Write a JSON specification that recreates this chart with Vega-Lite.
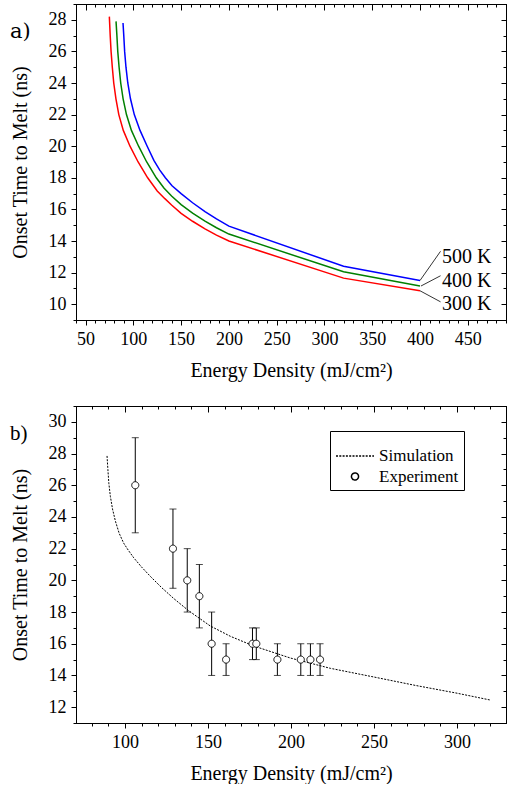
{
  "$schema": "https://vega.github.io/schema/vega-lite/v6.json",
  "padding": {"left": 9, "top": 3, "right": 0, "bottom": 0},
  "spacing": 86,
  "bounds": "flush",
  "datasets": {
    "curves": [
      {"E": 74.9, "t": 28.2, "T": "300 K"}, {"E": 75.8, "t": 27, "T": "300 K"}, {"E": 76.7, "t": 26, "T": "300 K"}, {"E": 78, "t": 25, "T": "300 K"}, {"E": 79.5, "t": 24, "T": "300 K"}, {"E": 81.8, "t": 23, "T": "300 K"}, {"E": 84.8, "t": 22, "T": "300 K"}, {"E": 89.5, "t": 21, "T": "300 K"}, {"E": 96.5, "t": 20, "T": "300 K"}, {"E": 105, "t": 19, "T": "300 K"}, {"E": 115, "t": 18, "T": "300 K"}, {"E": 125, "t": 17.17, "T": "300 K"}, {"E": 133, "t": 16.68, "T": "300 K"}, {"E": 140, "t": 16.28, "T": "300 K"}, {"E": 150, "t": 15.75, "T": "300 K"}, {"E": 162, "t": 15.25, "T": "300 K"}, {"E": 175, "t": 14.77, "T": "300 K"}, {"E": 187, "t": 14.37, "T": "300 K"}, {"E": 200, "t": 14.0, "T": "300 K"}, {"E": 320, "t": 11.65, "T": "300 K"}, {"E": 400, "t": 10.85, "T": "300 K"},
      {"E": 81.9, "t": 27.9, "T": "400 K"}, {"E": 82.8, "t": 27, "T": "400 K"}, {"E": 83.7, "t": 26, "T": "400 K"}, {"E": 85.1, "t": 25, "T": "400 K"}, {"E": 86.8, "t": 24, "T": "400 K"}, {"E": 89.3, "t": 23, "T": "400 K"}, {"E": 92.8, "t": 22, "T": "400 K"}, {"E": 98, "t": 21, "T": "400 K"}, {"E": 105.5, "t": 20, "T": "400 K"}, {"E": 114, "t": 19, "T": "400 K"}, {"E": 124, "t": 18, "T": "400 K"}, {"E": 132, "t": 17.35, "T": "400 K"}, {"E": 140, "t": 16.85, "T": "400 K"}, {"E": 150, "t": 16.3, "T": "400 K"}, {"E": 162, "t": 15.77, "T": "400 K"}, {"E": 175, "t": 15.26, "T": "400 K"}, {"E": 187, "t": 14.84, "T": "400 K"}, {"E": 200, "t": 14.44, "T": "400 K"}, {"E": 320, "t": 12.05, "T": "400 K"}, {"E": 400, "t": 11.15, "T": "400 K"},
      {"E": 89.2, "t": 27.8, "T": "500 K"}, {"E": 90, "t": 27, "T": "500 K"}, {"E": 90.9, "t": 26, "T": "500 K"}, {"E": 92.3, "t": 25, "T": "500 K"}, {"E": 94.2, "t": 24, "T": "500 K"}, {"E": 97, "t": 23, "T": "500 K"}, {"E": 101, "t": 22, "T": "500 K"}, {"E": 107, "t": 21, "T": "500 K"}, {"E": 114.5, "t": 20, "T": "500 K"}, {"E": 121.5, "t": 19.1, "T": "500 K"}, {"E": 127.5, "t": 18.5, "T": "500 K"}, {"E": 133.5, "t": 18.0, "T": "500 K"}, {"E": 140.5, "t": 17.5, "T": "500 K"}, {"E": 150, "t": 17.0, "T": "500 K"}, {"E": 162, "t": 16.42, "T": "500 K"}, {"E": 175, "t": 15.86, "T": "500 K"}, {"E": 187, "t": 15.4, "T": "500 K"}, {"E": 200, "t": 14.94, "T": "500 K"}, {"E": 320, "t": 12.4, "T": "500 K"}, {"E": 400, "t": 11.5, "T": "500 K"}
    ],
    "curveLabels": [
      {"E": 423, "t": 13.0, "T": "500 K"},
      {"E": 423, "t": 11.5, "T": "400 K"},
      {"E": 423, "t": 10.0, "T": "300 K"}
    ],
    "leaders": [
      {"E": 400, "t": 11.5, "E2": 421.5, "t2": 13.35},
      {"E": 401, "t": 11.15, "E2": 421.5, "t2": 11.8},
      {"E": 400, "t": 10.85, "E2": 421.5, "t2": 10.15}
    ],
    "sim": [
      {"E": 89.2, "t": 27.85}, {"E": 89.7, "t": 27.0}, {"E": 90.3, "t": 26.1}, {"E": 91.2, "t": 25.3}, {"E": 92.5, "t": 24.5}, {"E": 94.2, "t": 23.75}, {"E": 96.5, "t": 22.97}, {"E": 99.2, "t": 22.35}, {"E": 102, "t": 21.9}, {"E": 105.3, "t": 21.42}, {"E": 110, "t": 20.84}, {"E": 115.3, "t": 20.25}, {"E": 122, "t": 19.55}, {"E": 129.4, "t": 18.85}, {"E": 138.4, "t": 18.08}, {"E": 151.4, "t": 17.12}, {"E": 163.5, "t": 16.47}, {"E": 177.5, "t": 15.86}, {"E": 199.6, "t": 15.1}, {"E": 223.7, "t": 14.45}, {"E": 250, "t": 13.9}, {"E": 275, "t": 13.37}, {"E": 300, "t": 12.88}, {"E": 320, "t": 12.45}
    ],
    "exp": [
      {"E": 106.2, "t": 26, "lo": 23, "hi": 29, "series": "Experiment"},
      {"E": 128.9, "t": 22, "lo": 19.5, "hi": 24.5, "series": "Experiment"},
      {"E": 137.5, "t": 20, "lo": 18, "hi": 22, "series": "Experiment"},
      {"E": 144.8, "t": 19, "lo": 17, "hi": 21, "series": "Experiment"},
      {"E": 152.2, "t": 16, "lo": 14, "hi": 18, "series": "Experiment"},
      {"E": 160.9, "t": 15, "lo": 14, "hi": 16, "series": "Experiment"},
      {"E": 176.8, "t": 16, "lo": 15, "hi": 17, "series": "Experiment"},
      {"E": 179.1, "t": 16, "lo": 15, "hi": 17, "series": "Experiment"},
      {"E": 191.8, "t": 15, "lo": 14, "hi": 16, "series": "Experiment"},
      {"E": 205.9, "t": 15, "lo": 14, "hi": 16, "series": "Experiment"},
      {"E": 211.7, "t": 15, "lo": 14, "hi": 16, "series": "Experiment"},
      {"E": 217.5, "t": 15, "lo": 14, "hi": 16, "series": "Experiment"}
    ]
  },
  "vconcat": [
    {
      "width": 430,
      "height": 316,
      "resolve": {"axis": {"x": "independent", "y": "independent"}},
      "layer": [
        {
          "data": {"name": "curves"},
          "mark": {"type": "line", "strokeWidth": 1.5},
          "encoding": {
            "x": {"field": "E", "type": "quantitative", "scale": {"domain": [40, 490], "nice": false, "zero": false},
              "axis": {"orient": "bottom", "title": "Energy Density (mJ/cm²)", "titlePadding": 12, "domain": true, "ticks": true,
                "domainColor": "#000000", "tickColor": "#000000", "domainOpacity": 1, "tickOpacity": 1, "domainWidth": 1, "tickWidth": 1,
                "values": [50, 100, 150, 200, 250, 300, 350, 400, 450], "tickSize": 5}},
            "y": {"field": "t", "type": "quantitative", "scale": {"domain": [9, 29], "nice": false, "zero": false},
              "axis": {"orient": "left", "title": "Onset Time to Melt (ns)", "titlePadding": 18, "domain": true, "ticks": true,
                "domainColor": "#000000", "tickColor": "#000000", "domainOpacity": 1, "tickOpacity": 1,
                "values": [10, 12, 14, 16, 18, 20, 22, 24, 26, 28], "tickSize": 5}},
            "color": {"field": "T", "type": "nominal", "scale": {"domain": ["300 K", "400 K", "500 K"], "range": ["#ff0000", "#008000", "#0000ff"]}, "legend": null}
          }
        },
        {
          "data": {"name": "leaders"},
          "mark": {"type": "rule", "color": "black", "strokeWidth": 0.8},
          "encoding": {
            "x": {"field": "E", "type": "quantitative",
              "axis": {"orient": "bottom", "title": null, "labels": false, "domain": true, "tickSize": 3,
                "values": [40,50,60,70,80,90,100,110,120,130,140,150,160,170,180,190,200,210,220,230,240,250,260,270,280,290,300,310,320,330,340,350,360,370,380,390,400,410,420,430,440,450,460,470,480,490]}},
            "y": {"field": "t", "type": "quantitative",
              "axis": {"orient": "left", "title": null, "labels": false, "domain": true, "tickSize": 3,
                "values": [9,10,11,12,13,14,15,16,17,18,19,20,21,22,23,24,25,26,27,28,29]}},
            "x2": {"field": "E2"},
            "y2": {"field": "t2"}
          }
        },
        {
          "data": {"name": "curveLabels"},
          "mark": {"type": "text", "align": "left", "baseline": "middle", "fontSize": 20, "color": "black"},
          "encoding": {
            "x": {"field": "E", "type": "quantitative",
              "axis": {"orient": "top", "title": null, "labels": false, "domain": true, "tickSize": -6,
                "values": [50, 100, 150, 200, 250, 300, 350, 400, 450]}},
            "y": {"field": "t", "type": "quantitative",
              "axis": {"orient": "right", "title": null, "labels": false, "domain": true, "tickSize": -5,
                "values": [10, 12, 14, 16, 18, 20, 22, 24, 26, 28]}},
            "text": {"field": "T"}
          }
        },
        {
          "data": {"name": "curveLabels"},
          "mark": {"type": "point", "opacity": 0},
          "encoding": {
            "x": {"field": "E", "type": "quantitative",
              "axis": {"orient": "top", "title": null, "labels": false, "domain": true, "tickSize": -3,
                "values": [40,50,60,70,80,90,100,110,120,130,140,150,160,170,180,190,200,210,220,230,240,250,260,270,280,290,300,310,320,330,340,350,360,370,380,390,400,410,420,430,440,450,460,470,480,490]}},
            "y": {"field": "t", "type": "quantitative",
              "axis": {"orient": "right", "title": null, "labels": false, "domain": true, "tickSize": -3,
                "values": [9,10,11,12,13,14,15,16,17,18,19,20,21,22,23,24,25,26,27,28,29]}}
          }
        },
        {
          "data": {"values": [{"panel": "a)"}]},
          "mark": {"type": "text", "align": "left", "baseline": "middle", "fontSize": 21, "color": "black", "font": "DejaVu Serif"},
          "encoding": {
            "x": {"datum": -29, "type": "quantitative", "axis": null},
            "y": {"datum": 27.2, "type": "quantitative", "axis": null},
            "text": {"field": "panel"}
          }
        }
      ]
    },
    {
      "width": 430,
      "height": 317,
      "resolve": {"axis": {"x": "independent", "y": "independent"}},
      "layer": [
        {
          "data": {"name": "sim"},
          "mark": {"type": "line", "strokeWidth": 1, "color": "black", "strokeDash": [2, 1.3]},
          "encoding": {
            "x": {"field": "E", "type": "quantitative", "scale": {"domain": [70.5, 329.5], "nice": false, "zero": false},
              "axis": {"orient": "bottom", "title": "Energy Density (mJ/cm²)", "titlePadding": 12, "domain": true,
                "values": [100, 150, 200, 250, 300], "tickSize": 5}},
            "y": {"field": "t", "type": "quantitative", "scale": {"domain": [11, 31], "nice": false, "zero": false},
              "axis": {"orient": "left", "title": "Onset Time to Melt (ns)", "titlePadding": 18, "domain": true,
                "values": [12, 14, 16, 18, 20, 22, 24, 26, 28, 30], "tickSize": 5}}
          }
        },
        {
          "data": {"name": "exp"},
          "mark": {"type": "errorbar", "color": "black", "thickness": 1, "ticks": {"size": 7, "color": "black"}},
          "encoding": {
            "x": {"field": "E", "type": "quantitative", "axis": null},
            "y": {"field": "lo", "type": "quantitative", "axis": null},
            "y2": {"field": "hi"}
          }
        },
        {
          "data": {"name": "exp"},
          "mark": {"type": "point", "filled": true, "fill": "white", "stroke": "black", "strokeWidth": 1, "opacity": 1},
          "encoding": {
            "x": {"field": "E", "type": "quantitative",
              "axis": {"orient": "top", "title": null, "labels": false, "domain": true, "tickSize": -6,
                "values": [100, 150, 200, 250, 300]}},
            "y": {"field": "t", "type": "quantitative",
              "axis": {"orient": "right", "title": null, "labels": false, "domain": true, "tickSize": -5,
                "values": [12, 14, 16, 18, 20, 22, 24, 26, 28, 30]}},
            "shape": {"field": "series", "type": "nominal", "scale": {"domain": ["Simulation", "Experiment"], "range": ["stroke", "circle"]},
              "legend": {"orient": "none", "legendX": 254, "legendY": 427, "title": null, "strokeColor": "black", "padding": 5,
                "labelFontSize": 17, "labelColor": "black", "labelOffset": 4, "rowPadding": 3, "labelFont": "Times New Roman",
                "encode": {"symbols": {"update": {"fill": {"value": "white"}, "stroke": {"value": "black"}, "strokeWidth": {"value": 1}, "opacity": {"value": 1}}}}}},
            "size": {"field": "series", "type": "nominal", "scale": {"domain": ["Simulation", "Experiment"], "range": [1444, 50]},
              "legend": {"orient": "none", "legendX": 254, "legendY": 427, "title": null, "strokeColor": "black", "padding": 5,
                "labelFontSize": 17, "labelColor": "black", "labelOffset": 4, "rowPadding": 3, "labelFont": "Times New Roman",
                "encode": {"symbols": {"update": {"fill": {"value": "white"}, "stroke": {"value": "black"}, "strokeWidth": {"value": 1}, "opacity": {"value": 1}}}}}},
            "strokeDash": {"field": "series", "type": "nominal", "scale": {"domain": ["Simulation", "Experiment"], "range": [[2, 1.3], [1, 0]]},
              "legend": {"orient": "none", "legendX": 254, "legendY": 427, "title": null, "strokeColor": "black", "padding": 5,
                "labelFontSize": 17, "labelColor": "black", "labelOffset": 4, "rowPadding": 3, "labelFont": "Times New Roman",
                "encode": {"symbols": {"update": {"fill": {"value": "white"}, "stroke": {"value": "black"}, "strokeWidth": {"value": 1}, "opacity": {"value": 1}}}}}}
          }
        },
        {
          "data": {"name": "exp"},
          "mark": {"type": "point", "opacity": 0},
          "encoding": {
            "x": {"field": "E", "type": "quantitative",
              "axis": {"orient": "bottom", "title": null, "labels": false, "domain": true, "tickSize": 3,
                "values": [80,90,100,110,120,130,140,150,160,170,180,190,200,210,220,230,240,250,260,270,280,290,300,310,320]}},
            "y": {"field": "t", "type": "quantitative",
              "axis": {"orient": "left", "title": null, "labels": false, "domain": true, "tickSize": 3,
                "values": [11,12,13,14,15,16,17,18,19,20,21,22,23,24,25,26,27,28,29,30,31]}}
          }
        },
        {
          "data": {"name": "exp"},
          "mark": {"type": "point", "opacity": 0},
          "encoding": {
            "x": {"field": "E", "type": "quantitative",
              "axis": {"orient": "top", "title": null, "labels": false, "domain": true, "tickSize": -3,
                "values": [80,90,100,110,120,130,140,150,160,170,180,190,200,210,220,230,240,250,260,270,280,290,300,310,320]}},
            "y": {"field": "t", "type": "quantitative",
              "axis": {"orient": "right", "title": null, "labels": false, "domain": true, "tickSize": -3,
                "values": [11,12,13,14,15,16,17,18,19,20,21,22,23,24,25,26,27,28,29,30,31]}}
          }
        },
        {
          "data": {"values": [{"panel": "b)"}]},
          "mark": {"type": "text", "align": "left", "baseline": "middle", "fontSize": 21, "color": "black", "font": "Liberation Serif"},
          "encoding": {
            "x": {"datum": 30.7, "type": "quantitative", "axis": null},
            "y": {"datum": 29.23, "type": "quantitative", "axis": null},
            "text": {"field": "panel"}
          }
        }
      ]
    }
  ],
  "config": {
    "font": "Liberation Serif",
    "view": {"stroke": "black", "strokeWidth": 1},
    "axis": {
      "labelFont": "Liberation Serif",
      "titleFont": "Liberation Serif",
      "labelFontSize": 18, "titleFontSize": 20, "titleFontWeight": "normal",
      "labelColor": "black", "titleColor": "black",
      "domainColor": "black", "tickColor": "black", "domainWidth": 1, "tickWidth": 1,
      "grid": false, "labelPadding": 5
    },
    "text": {"font": "Liberation Serif"}
  }
}
